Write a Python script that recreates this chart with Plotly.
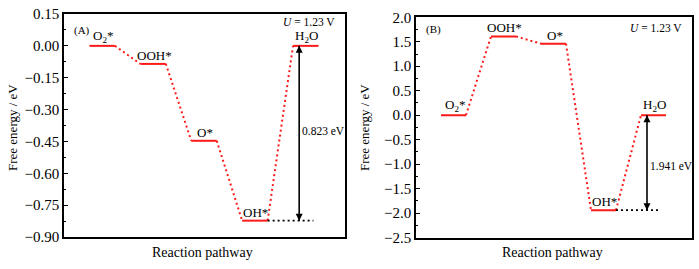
import plotly.graph_objects as go

# ---------------- data ----------------
steps = [1, 2, 3, 4, 5]
species = ["O<sub>2</sub>*", "OOH*", "O*", "OH*", "H<sub>2</sub>O"]
energy_a = [0.0, -0.085, -0.447, -0.823, 0.0]
energy_b = [0.0, 1.61, 1.46, -1.941, 0.0]
gap_a_label = "0.823 eV"
gap_b_label = "1.941 eV"
potential_label = "<i>U</i> = 1.23 V"
yticks_a = [-0.90, -0.75, -0.60, -0.45, -0.30, -0.15, 0.00, 0.15]
yticks_b = [-2.5, -2.0, -1.5, -1.0, -0.5, 0.0, 0.5, 1.0, 1.5, 2.0]

W, H = 699, 269
FONT = "Liberation Serif, Times New Roman, DejaVu Serif, serif"
RED = "#ff1a1a"
HALF = 0.25

fig = go.Figure()

def px(xp):
    return xp / W

def py(yp):
    return 1 - yp / H

panels = [
    dict(x="x", y="y", xa="xaxis", ya="yaxis", e=energy_a, yt=yticks_a,
         fmt=".2f", minor=0.075, dom_x=[px(64), px(345)], dom_y=[py(237), py(14)],
         gap=gap_a_label, gap_y=-0.40, tag="(A)", tag_y=30, u_y=22),
    dict(x="x2", y="y2", xa="xaxis2", ya="yaxis2", e=energy_b, yt=yticks_b,
         fmt=".1f", minor=0.25, dom_x=[px(416), px(692)], dom_y=[py(237.5), py(17.3)],
         gap=gap_b_label, gap_y=-1.03, tag="(B)", tag_y=29, u_y=28),
]

annotations = []
for p in panels:
    e = p["e"]
    # energy levels
    for s, v in zip(steps, e):
        fig.add_trace(go.Scatter(x=[s - HALF, s + HALF], y=[v, v], mode="lines",
                                 line=dict(color=RED, width=2), xaxis=p["x"], yaxis=p["y"],
                                 showlegend=False, hoverinfo="skip"))
    # connectors
    for i in range(len(steps) - 1):
        fig.add_trace(go.Scatter(x=[steps[i] + HALF, steps[i + 1] - HALF], y=[e[i], e[i + 1]],
                                 mode="lines", line=dict(color=RED, width=2, dash="2px,3px"),
                                 xaxis=p["x"], yaxis=p["y"], showlegend=False, hoverinfo="skip"))
    # black dotted reference line from OH* level
    fig.add_trace(go.Scatter(x=[steps[3] + HALF, steps[4] + 0.15], y=[e[3], e[3]],
                             mode="lines", line=dict(color="black", width=1.8, dash="2px,3px"),
                             xaxis=p["x"], yaxis=p["y"], showlegend=False, hoverinfo="skip"))
    # species labels
    for s, v, name in zip(steps, e, species):
        annotations.append(dict(x=s, y=v, xref=p["x"], yref=p["y"], text=name,
                                showarrow=False, xanchor="center", yanchor="bottom",
                                xshift=1, yshift=-1,
                                font=dict(family=FONT, size=13, color="black")))
    # double arrow (line + arrow-head markers whose tips sit on the levels)
    ax_x = steps[4] - 0.13
    fig.add_trace(go.Scatter(x=[ax_x, ax_x], y=[e[3], e[4]], mode="lines",
                             line=dict(color="black", width=1.6),
                             xaxis=p["x"], yaxis=p["y"], showlegend=False, hoverinfo="skip"))
    fig.add_trace(go.Scatter(x=[ax_x, ax_x], y=[e[4], e[3]], mode="markers",
                             marker=dict(symbol=["arrow-up", "arrow-down"], size=7,
                                         color="black", line=dict(width=0)),
                             xaxis=p["x"], yaxis=p["y"], showlegend=False, hoverinfo="skip"))
    annotations.append(dict(x=ax_x, y=p["gap_y"], xref=p["x"], yref=p["y"], text=p["gap"],
                            showarrow=False, xanchor="left", yanchor="middle", xshift=1,
                            font=dict(family=FONT, size=11.5, color="black")))
    # panel tag and potential label
    annotations.append(dict(x=p["dom_x"][0] + px(8), y=py(p["tag_y"]), xref="paper", yref="paper",
                            text=p["tag"], showarrow=False, xanchor="left", yanchor="middle",
                            font=dict(family=FONT, size=11, color="black")))
    annotations.append(dict(x=p["dom_x"][1] - px(8), y=py(p["u_y"]), xref="paper", yref="paper",
                            text=potential_label, showarrow=False, xanchor="right", yanchor="middle",
                            font=dict(family=FONT, size=11.5, color="black")))
    # axis titles
    annotations.append(dict(x=(p["dom_x"][0] + p["dom_x"][1]) / 2 - px(2), y=py(252),
                            xref="paper", yref="paper", text="Reaction pathway", showarrow=False,
                            xanchor="center", yanchor="middle",
                            font=dict(family=FONT, size=14, color="black")))
    annotations.append(dict(x=p["dom_x"][0] - px(52), y=py(128), xref="paper", yref="paper",
                            text="Free energy / eV", showarrow=False, textangle=-90,
                            xanchor="center", yanchor="middle",
                            font=dict(family=FONT, size=13, color="black")))

    fig.update_layout(**{
        p["xa"]: dict(domain=p["dom_x"], range=[0.25, 5.77], showticklabels=False, ticks="",
                      showgrid=False, zeroline=False, showline=True, linecolor="black",
                      linewidth=1.6, mirror=True, anchor=p["y"], automargin=False,
                      fixedrange=True),
        p["ya"]: dict(domain=p["dom_y"], range=[p["yt"][0], p["yt"][-1]], tickvals=p["yt"],
                      tickformat=p["fmt"], ticks="inside", ticklen=4, tickwidth=1.2,
                      tickcolor="black", showgrid=False, zeroline=False, showline=True,
                      linecolor="black", linewidth=1.6, mirror=True, anchor=p["x"],
                      automargin=False,
                      minor=dict(ticks="inside", ticklen=2.5, tickwidth=1, tickcolor="black",
                                 dtick=p["minor"], tick0=0, showgrid=False),
                      tickfont=dict(family=FONT, size=15, color="black"), fixedrange=True),
    })

fig.update_layout(width=W, height=H, margin=dict(l=0, r=0, t=0, b=0),
                  paper_bgcolor="white", plot_bgcolor="white", template="none",
                  font=dict(family=FONT, color="black"),
                  showlegend=False, annotations=annotations)

fig.write_html("out.html", config={"displayModeBar": False},
               post_script="document.body.style.margin='0';document.body.style.overflow='hidden';")
